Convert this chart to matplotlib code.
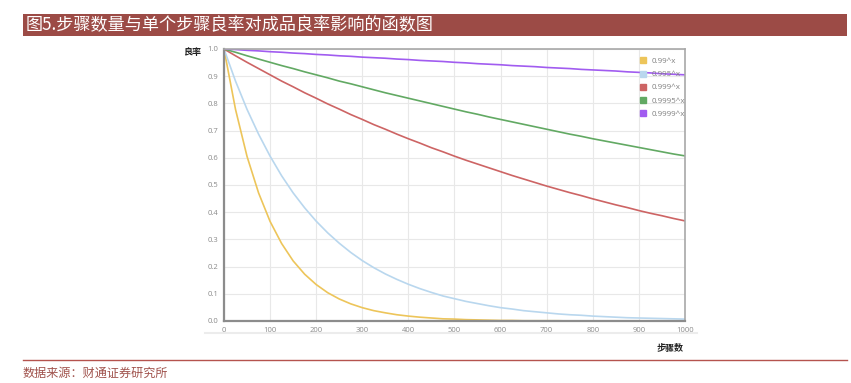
import matplotlib
matplotlib.use('Agg')
import matplotlib.pyplot as plt
from matplotlib.lines import Line2D
from matplotlib.patches import Rectangle

plt.rcParams['font.family'] = ['Noto Sans CJK SC', 'DejaVu Sans']

# steps (x axis), values every 25 steps
steps = list(range(0, 1001, 25))

yield_099 = [1.000, 0.778, 0.605, 0.471, 0.366, 0.285, 0.221, 0.172, 0.134, 0.104,
             0.081, 0.063, 0.049, 0.038, 0.030, 0.023, 0.018, 0.014, 0.011, 0.008,
             0.007, 0.005, 0.004, 0.003, 0.002, 0.002, 0.001, 0.001, 0.001, 0.001,
             0.000, 0.000, 0.000, 0.000, 0.000, 0.000, 0.000, 0.000, 0.000, 0.000, 0.000]
yield_0995 = [1.000, 0.882, 0.778, 0.687, 0.606, 0.534, 0.471, 0.416, 0.367, 0.324,
              0.286, 0.252, 0.222, 0.196, 0.173, 0.153, 0.135, 0.119, 0.105, 0.092,
              0.082, 0.072, 0.064, 0.056, 0.049, 0.044, 0.038, 0.034, 0.030, 0.026,
              0.023, 0.021, 0.018, 0.016, 0.014, 0.012, 0.011, 0.010, 0.009, 0.008, 0.007]
yield_0999 = [1.000, 0.975, 0.951, 0.928, 0.905, 0.882, 0.861, 0.839, 0.819, 0.798,
              0.779, 0.759, 0.741, 0.722, 0.705, 0.687, 0.670, 0.654, 0.637, 0.622,
              0.606, 0.591, 0.577, 0.563, 0.549, 0.535, 0.522, 0.509, 0.496, 0.484,
              0.472, 0.461, 0.449, 0.438, 0.427, 0.417, 0.406, 0.396, 0.387, 0.377, 0.368]
yield_09995 = [1.000, 0.988, 0.975, 0.963, 0.951, 0.939, 0.928, 0.916, 0.905, 0.894,
               0.882, 0.872, 0.861, 0.850, 0.839, 0.829, 0.819, 0.809, 0.799, 0.789,
               0.779, 0.769, 0.760, 0.750, 0.741, 0.732, 0.723, 0.714, 0.705, 0.696,
               0.687, 0.679, 0.670, 0.662, 0.654, 0.646, 0.638, 0.630, 0.622, 0.614, 0.607]
yield_09999 = [1.000, 0.998, 0.995, 0.993, 0.990, 0.988, 0.985, 0.983, 0.980, 0.978,
               0.975, 0.973, 0.970, 0.968, 0.966, 0.963, 0.961, 0.958, 0.956, 0.954,
               0.951, 0.949, 0.946, 0.944, 0.942, 0.939, 0.937, 0.935, 0.932, 0.930,
               0.928, 0.925, 0.923, 0.921, 0.919, 0.916, 0.914, 0.912, 0.909, 0.907, 0.905]

labels = ['0.99^x', '0.995^x', '0.999^x', '0.9995^x', '0.9999^x']
colors = ['#EDC55A', '#B9D7EE', '#CD6464', '#62A963', '#A15CF0']
series = [yield_099, yield_0995, yield_0999, yield_09995, yield_09999]

title = '图5.步骤数量与单个步骤良率对成品良率影响的函数图'
source = '数据来源：财通证券研究所'

fig = plt.figure(figsize=(8.51, 3.83), dpi=100)
ax = fig.add_axes([0.2632, 0.1619, 0.5417, 0.7102])

for vals, c in zip(series, colors):
    ax.plot(steps, vals, color=c, linewidth=1.2, solid_joinstyle='round')

ax.set_xlim(0, 1000)
ax.set_ylim(0, 1.0)
ax.set_xticks(range(0, 1001, 100))
ax.set_yticks([i / 10 for i in range(11)])
ax.set_yticklabels([f'{i / 10:.1f}' for i in range(11)])
ax.tick_params(length=0, labelsize=5.5, labelcolor='#8a8a8a', pad=4)
for lab in ax.get_xticklabels() + ax.get_yticklabels():
    lab.set_family('Open Sans')
ax.grid(True, color='#e8e8e8', linewidth=0.8)
ax.set_axisbelow(True)
for side in ['left', 'bottom']:
    ax.spines[side].set_color('#8c8c8c')
    ax.spines[side].set_linewidth(1.6)
for side in ['top', 'right']:
    ax.spines[side].set_color('#a8a8a8')
    ax.spines[side].set_linewidth(1.2)

handles = [Line2D([], [], linestyle='none', marker='s', markersize=5,
                  markerfacecolor=c, markeredgecolor=c) for c in colors]
leg = ax.legend(handles, labels, loc='upper left', bbox_to_anchor=(0.885, 0.995),
                frameon=False, fontsize=5.8, labelspacing=0.68, handlelength=1.0,
                handletextpad=0.6)
for t in leg.get_texts():
    t.set_color('#808080')
    t.set_family('Open Sans')

fig.text(183 / 851, 1 - 52 / 383, '良率', fontsize=6.5, fontweight='bold',
         color='#222222', ha='left', va='center')
fig.text(657 / 851, 1 - 348 / 383, '步骤数', fontsize=6.5, fontweight='bold',
         color='#222222', ha='left', va='center')

# faint band under the x tick labels
fig.add_artist(Line2D([205 / 851, 697 / 851], [1 - 333 / 383] * 2,
                      color='#ececec', linewidth=1.5))

# title bar
fig.add_artist(Rectangle((23 / 851, 1 - 36 / 383), 824 / 851, 22 / 383,
                         facecolor='#9C4B46', edgecolor='none'))
fig.text(26 / 851, 1 - 25 / 383, title, fontsize=12.3, color='white',
         ha='left', va='center')

# source line
fig.add_artist(Line2D([23 / 851, 847 / 851], [1 - 360 / 383] * 2,
                      color='#B5534E', linewidth=1.0))
fig.text(23 / 851, 1 - 373 / 383, source, fontsize=8.7, color='#A0524C',
         ha='left', va='center')

fig.savefig('out.png', dpi=100)
